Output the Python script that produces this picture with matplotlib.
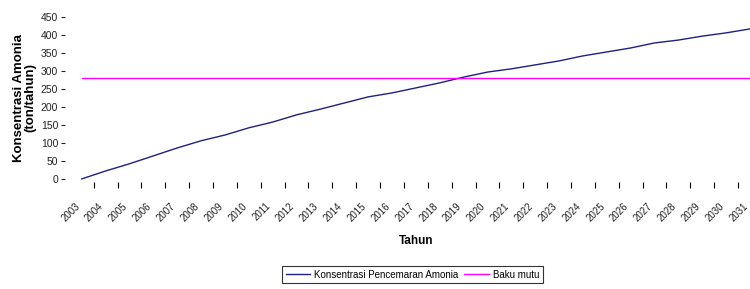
import matplotlib
matplotlib.use("Agg")
import matplotlib.pyplot as plt
import numpy as np

plt.rcParams['font.family'] = ['Liberation Sans', 'DejaVu Sans']

# data
tahun = [str(y) for y in range(2003, 2032)]
amonia = [0, 22, 42, 64, 86, 106, 122, 142, 158, 178, 194, 211, 228, 239, 253,
          267, 283, 297, 306, 317, 328, 342, 353, 364, 378, 386, 397, 406, 417]
baku_mutu = [280] * len(tahun)

fig = plt.figure(figsize=(7.5, 2.89), dpi=100)
ax = fig.add_axes([0.109, 0.381, 0.891, 0.560])

x = np.arange(len(tahun))
ax.plot(x, amonia, color='#1f1f85', linewidth=1.0, clip_on=False,
        label='Konsentrasi Pencemaran Amonia')
ax.plot(x, baku_mutu, color='#ff00ff', linewidth=1.0, clip_on=False,
        label='Baku mutu')

ax.set_xlim(0, len(tahun) - 1)
ax.set_ylim(0, 450)

# sumbu tanpa garis, hanya tanda tick
for s in ax.spines.values():
    s.set_visible(False)
ax.spines['left'].set_position(('outward', 12))
ax.spines['bottom'].set_position(('outward', 2))

ax.set_yticks(np.arange(0, 451, 50))
ax.tick_params(axis='y', direction='out', length=3, width=0.8, pad=2,
               labelsize=7.5, colors='#222222')

ax.set_xticks(x)
ax.set_xticklabels(tahun, rotation=45, ha='right', va='top', fontsize=7)
ax.set_xticks(x[:-1] + 0.5, minor=True)
ax.tick_params(axis='x', which='major', length=0, pad=14, colors='#222222')
ax.tick_params(axis='x', which='minor', direction='out', length=4, width=0.8)

ax.set_ylabel('Konsentrasi Amonia\n(ton/tahun)', fontsize=9.5,
              fontweight='bold', labelpad=3, linespacing=1.0)
ax.set_xlabel('Tahun', fontsize=8.5, fontweight='bold', labelpad=8)

leg = fig.legend(loc='center', bbox_to_anchor=(0.55, 0.05), ncol=2,
                 fontsize=7, frameon=True, fancybox=False,
                 edgecolor='black', handlelength=2.5, columnspacing=0.6,
                 handletextpad=0.4, borderpad=0.4)
leg.get_frame().set_linewidth(0.8)

fig.savefig('out.png', dpi=100)
